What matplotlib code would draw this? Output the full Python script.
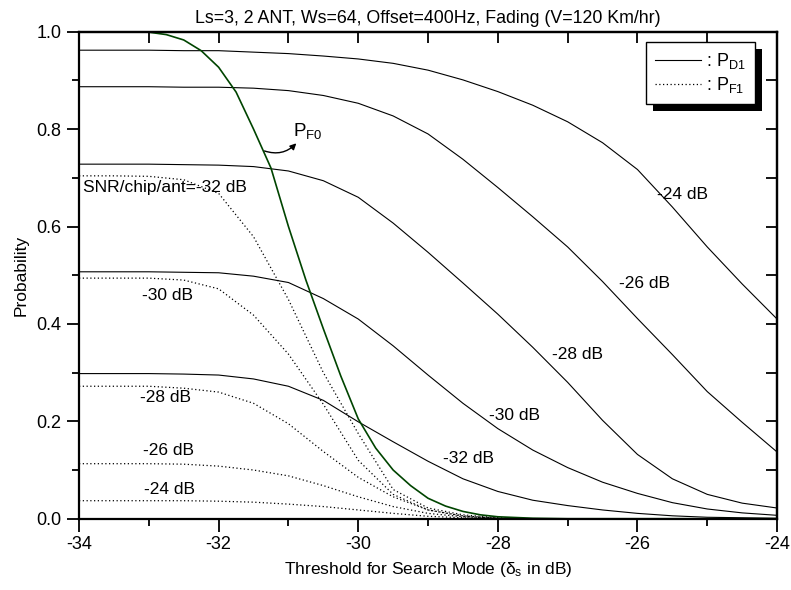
import matplotlib
matplotlib.use('Agg')
import matplotlib.pyplot as plt
from matplotlib.ticker import MultipleLocator
from matplotlib.patches import Rectangle

plt.rcParams['font.family'] = ['Liberation Sans', 'DejaVu Sans']
plt.rcParams['axes.unicode_minus'] = False
plt.rcParams['mathtext.fontset'] = 'custom'
plt.rcParams['mathtext.rm'] = 'Liberation Sans'

# threshold grid (dB)
thresholds = [-34, -33.5, -33, -32.5, -32, -31.5, -31, -30.5, -30, -29.5, -29,
              -28.5, -28, -27.5, -27, -26.5, -26, -25.5, -25, -24.5, -24]

# P_D1 for SNR/chip/ant = -24 ... -32 dB
pd1_m24 = [0.962, 0.962, 0.962, 0.961, 0.961, 0.958, 0.955, 0.950, 0.944, 0.935, 0.921,
           0.901, 0.877, 0.849, 0.815, 0.772, 0.717, 0.640, 0.558, 0.482, 0.410]
pd1_m26 = [0.887, 0.887, 0.887, 0.886, 0.886, 0.884, 0.879, 0.869, 0.853, 0.827, 0.790,
           0.738, 0.680, 0.620, 0.558, 0.487, 0.411, 0.337, 0.261, 0.198, 0.137]
pd1_m28 = [0.728, 0.728, 0.728, 0.727, 0.726, 0.723, 0.714, 0.694, 0.660, 0.607, 0.547,
           0.484, 0.420, 0.352, 0.280, 0.202, 0.132, 0.082, 0.050, 0.032, 0.022]
pd1_m30 = [0.507, 0.507, 0.507, 0.506, 0.505, 0.498, 0.485, 0.452, 0.410, 0.355, 0.295,
           0.237, 0.185, 0.141, 0.105, 0.075, 0.052, 0.033, 0.020, 0.012, 0.007]
pd1_m32 = [0.298, 0.298, 0.298, 0.297, 0.295, 0.287, 0.272, 0.243, 0.199, 0.158, 0.118,
           0.082, 0.056, 0.038, 0.027, 0.018, 0.011, 0.006, 0.003, 0.002, 0.001]

# P_F1 for SNR/chip/ant = -24 ... -32 dB
pf1_m24 = [0.037, 0.037, 0.037, 0.037, 0.036, 0.034, 0.030, 0.025, 0.018, 0.011, 0.005,
           0.002, 0.0005, 0, 0, 0, 0, 0, 0, 0, 0]
pf1_m26 = [0.113, 0.113, 0.113, 0.112, 0.108, 0.100, 0.088, 0.068, 0.045, 0.025, 0.011,
           0.004, 0.001, 0, 0, 0, 0, 0, 0, 0, 0]
pf1_m28 = [0.272, 0.272, 0.272, 0.268, 0.260, 0.237, 0.195, 0.138, 0.085, 0.045, 0.018,
           0.006, 0.001, 0, 0, 0, 0, 0, 0, 0, 0]
pf1_m30 = [0.494, 0.494, 0.494, 0.490, 0.472, 0.418, 0.338, 0.235, 0.120, 0.050, 0.018,
           0.005, 0.001, 0, 0, 0, 0, 0, 0, 0, 0]
pf1_m32 = [0.704, 0.704, 0.703, 0.696, 0.668, 0.579, 0.450, 0.300, 0.175, 0.060, 0.022,
           0.008, 0.002, 0, 0, 0, 0, 0, 0, 0, 0]

# P_F0 (finer grid where it bends)
pf0_x = [-34, -33.5, -33.25, -33, -32.75, -32.5, -32.25, -32, -31.75, -31.5, -31.25, -31,
         -30.75, -30.5, -30.25, -30, -29.75, -29.5, -29.25, -29, -28.75, -28.5, -28.25,
         -28, -27.5, -27, -26, -25, -24]
pf0 = [1.0, 1.0, 1.0, 0.999, 0.994, 0.983, 0.961, 0.927, 0.876, 0.800, 0.720, 0.600,
       0.490, 0.390, 0.293, 0.205, 0.145, 0.100, 0.068, 0.042, 0.026, 0.015, 0.008,
       0.004, 0.001, 0, 0, 0, 0]

pd1_curves = [pd1_m24, pd1_m26, pd1_m28, pd1_m30, pd1_m32]
pf1_curves = [pf1_m24, pf1_m26, pf1_m28, pf1_m30, pf1_m32]

# label text and anchor (x, y) for each curve
pd1_labels = ['-24 dB', '-26 dB', '-28 dB', '-30 dB', '-32 dB']
pd1_label_pos = [(-25.72, 0.665), (-26.27, 0.483), (-27.22, 0.338), (-28.13, 0.211), (-28.79, 0.124)]
pf1_labels = ['-24 dB', '-26 dB', '-28 dB', '-30 dB', 'SNR/chip/ant=-32 dB']
pf1_label_pos = [(-33.07, 0.061), (-33.08, 0.141), (-33.13, 0.248), (-33.1, 0.459), (-33.94, 0.681)]

fig = plt.figure(figsize=(7.91, 5.90), dpi=100)
ax = fig.add_axes([0.0999, 0.1208, 0.8825, 0.8255])

for y in pd1_curves:
    ax.plot(thresholds, y, color='black', lw=0.8)
for y in pf1_curves:
    ax.plot(thresholds, y, color='black', lw=0.9, linestyle=(0, (1, 2)))
ax.plot(pf0_x, pf0, color='#004400', lw=1.2)

for txt, (x, y) in zip(pd1_labels, pd1_label_pos):
    ax.text(x, y, txt, fontsize=12.5, ha='left', va='center')
for txt, (x, y) in zip(pf1_labels, pf1_label_pos):
    ax.text(x, y, txt, fontsize=12.5, ha='left', va='center')

# P_F0 pointer
ax.annotate('', xy=(-30.86, 0.775), xytext=(-31.38, 0.757),
            arrowprops=dict(arrowstyle='-|>', connectionstyle='arc3,rad=0.35',
                            color='black', lw=1.0, mutation_scale=9))
ax.text(-30.93, 0.784, r'P$_{\mathregular{F0}}$', fontsize=13.5, ha='left', va='baseline')

# legend
h1, = ax.plot([], [], color='black', lw=0.8)
h2, = ax.plot([], [], color='black', lw=0.9, linestyle=(0, (1, 2)))
leg = ax.legend([h1, h2], [r': P$_{\mathregular{D1}}$', r': P$_{\mathregular{F1}}$'],
                loc='upper right', bbox_to_anchor=(0.968, 0.979), borderaxespad=0,
                fancybox=False, edgecolor='black', framealpha=1, fontsize=13,
                handlelength=2.5, handletextpad=0.3, labelspacing=0.25, borderpad=0.5)
leg.get_frame().set_linewidth(1.0)
leg.set_zorder(6)
fig.canvas.draw()
bb = leg.get_frame().get_window_extent().transformed(ax.transAxes.inverted())
sx, sy = 7 / (ax.bbox.width), 7 / (ax.bbox.height)
ax.add_patch(Rectangle((bb.x0 + sx, bb.y0 - sy), bb.width, bb.height, transform=ax.transAxes,
                       facecolor='black', edgecolor='none', zorder=5.5))

ax.set_xlim(-34, -24)
ax.set_ylim(0, 1.0)
ax.xaxis.set_major_locator(MultipleLocator(2))
ax.xaxis.set_minor_locator(MultipleLocator(1))
ax.yaxis.set_major_locator(MultipleLocator(0.2))
ax.yaxis.set_minor_locator(MultipleLocator(0.1))
ax.yaxis.set_major_formatter(matplotlib.ticker.FormatStrFormatter('%.1f'))
ax.tick_params(which='major', direction='out', length=9, width=1.3, labelsize=13)
ax.tick_params(which='minor', direction='out', length=5, width=1.3)
for s in ax.spines.values():
    s.set_linewidth(1.6)

# inward ticks on the top and right
top = ax.secondary_xaxis('top')
top.xaxis.set_major_locator(MultipleLocator(1))
top.tick_params(direction='in', length=8, width=1.3, labeltop=False)
right = ax.secondary_yaxis('right')
right.yaxis.set_major_locator(MultipleLocator(0.1))
right.tick_params(direction='in', length=8, width=1.3, labelright=False)
top.spines['top'].set_linewidth(1.6)
right.spines['right'].set_linewidth(1.6)

ax.set_xlabel(r'Threshold for Search Mode ($\mathregular{\delta_s}$ in dB)', fontsize=12.5, labelpad=5)
ax.set_ylabel('Probability', fontsize=12.5, labelpad=6)
ax.set_title('Ls=3, 2 ANT, Ws=64, Offset=400Hz, Fading (V=120 Km/hr)', fontsize=12.8, pad=6)

fig.savefig('out.png', dpi=100)
